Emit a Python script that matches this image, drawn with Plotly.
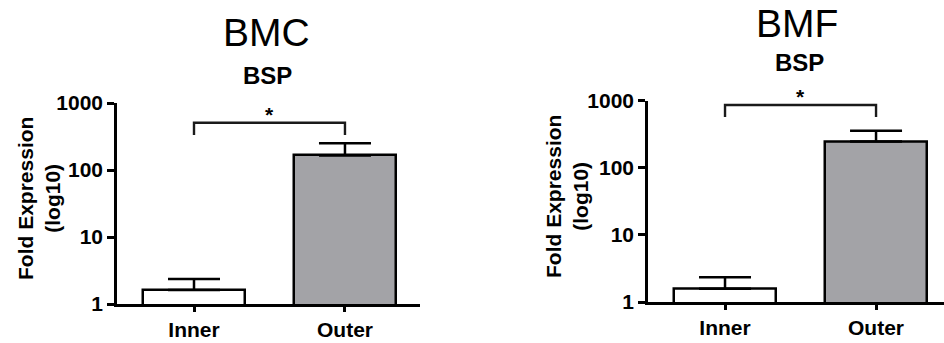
import numpy as np
import plotly.graph_objects as go

categories = ["Inner", "Outer"]
panel_titles = ["BMC", "BMF"]
gene = "BSP"
bmc_mean = [1.62, 165]
bmc_upper = [2.36, 250]
bmf_mean = [1.58, 247]
bmf_upper = [2.34, 357]
bmc_bracket = [332, 508]   # leg bottom, bracket top
bmf_bracket = [571, 862]
y_ticks = [1, 10, 100, 1000]
y_ticklabels = ["1", "10", "100", "1000"]
bar_colors = ["#ffffff", "#a3a3a7"]

W, H = 944, 343
FONT = "Liberation Sans, Arial, sans-serif"

def px_x(p):
    return p / W

def px_y(p):
    return (H - p) / H

fig = go.Figure()

panels = [
    dict(mean=bmc_mean, upper=bmc_upper, br=bmc_bracket, xa="x", ya="y"),
    dict(mean=bmf_mean, upper=bmf_upper, br=bmf_bracket, xa="x2", ya="y2"),
]
for p in panels:
    fig.add_trace(go.Bar(
        x=categories, y=p["mean"], width=0.675,
        marker=dict(color=bar_colors, line=dict(color="black", width=2.5)),
        error_y=dict(type="data", symmetric=False,
                     array=[u - m for u, m in zip(p["upper"], p["mean"])],
                     arrayminus=[0, 0], color="black", thickness=2.5, width=26),
        xaxis=p["xa"], yaxis=p["ya"], showlegend=False, hoverinfo="skip",
    ))
    lo, hi = p["br"]
    fig.add_trace(go.Scatter(
        x=[categories[0], categories[0], categories[1], categories[1]],
        y=[lo, hi, hi, lo], mode="lines",
        line=dict(color="#1a1a1a", width=2.4),
        xaxis=p["xa"], yaxis=p["ya"], showlegend=False, cliponaxis=False,
        hoverinfo="skip",
    ))
    fig.add_annotation(x=0.5, y=np.log10(hi), xref=p["xa"], yref=p["ya"],
                       text="<b>*</b>", showarrow=False, yanchor="bottom",
                       yshift=-5, font=dict(family=FONT, size=21, color="black"))

axis_common = dict(showline=True, linecolor="black", linewidth=2.5,
                   ticks="outside", tickcolor="black", tickwidth=2.5,
                   showgrid=False, zeroline=False, automargin=False)
tickfont = dict(family=FONT, size=21, color="black", weight="bold")
catfont = dict(family=FONT, size=21, color="black", weight="bold")

fig.update_layout(
    template="none",
    width=W, height=H, margin=dict(l=0, r=0, t=0, b=0, pad=0),
    paper_bgcolor="white", plot_bgcolor="white", bargap=0,
    xaxis=dict(domain=[px_x(117), px_x(420)], range=[-0.51, 1.497], anchor="y",
               ticklen=5, tickfont=catfont, **axis_common),
    yaxis=dict(domain=[px_y(304), px_y(103)], type="log", range=[0, 3], anchor="x",
               tickvals=y_ticks, ticktext=y_ticklabels, ticklen=7,
               tickfont=tickfont, **axis_common),
    xaxis2=dict(domain=[px_x(648), 1.0], range=[-0.51, 1.45], anchor="y2",
                ticklen=5, tickfont=catfont, **axis_common),
    yaxis2=dict(domain=[px_y(302), px_y(100.7)], type="log", range=[0, 3], anchor="x2",
                tickvals=y_ticks, ticktext=y_ticklabels, ticklen=7,
                tickfont=tickfont, **axis_common),
)

# Titles
for t, (tx, ty), (sx, sy), (yx, yy) in zip(
        panel_titles,
        [(266, 32), (797, 23)],
        [(267, 75), (799, 63)],
        [(39, 199), (567, 197)]):
    fig.add_annotation(x=px_x(tx), y=px_y(ty), xref="paper", yref="paper",
                       text=t, showarrow=False, xanchor="center", yanchor="middle",
                       font=dict(family=FONT, size=39, color="black"))
    fig.add_annotation(x=px_x(sx), y=px_y(sy), xref="paper", yref="paper",
                       text="<b>" + gene + "</b>", showarrow=False,
                       xanchor="center", yanchor="middle",
                       font=dict(family=FONT, size=24, color="black"))
    fig.add_annotation(x=px_x(yx), y=px_y(yy), xref="paper", yref="paper",
                       text="<b>Fold Expression<br>(log10)</b>", showarrow=False,
                       textangle=-90, xanchor="center", yanchor="middle",
                       font=dict(family=FONT, size=21, color="black"))

fig.write_html("out.html", config={"displayModeBar": False},
               post_script="document.body.style.margin='0';document.body.style.overflow='hidden';")
